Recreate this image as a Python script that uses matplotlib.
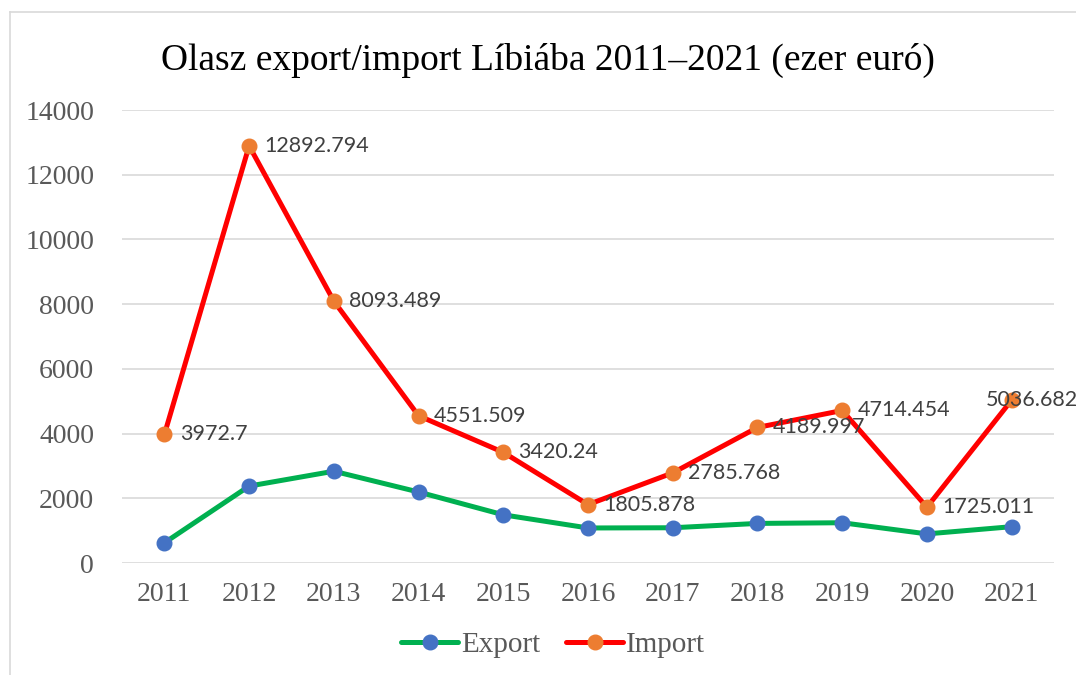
import matplotlib.pyplot as plt
from matplotlib.lines import Line2D

# Dati: olasz export/import Líbiába (ezer euró)
years = ['2011', '2012', '2013', '2014', '2015', '2016', '2017', '2018', '2019', '2020', '2021']
export = [624, 2378, 2837, 2195, 1490, 1083, 1090, 1224, 1245, 900, 1123]
imp = [3972.7, 12892.794, 8093.489, 4551.509, 3420.24, 1805.878, 2785.768, 4189.997, 4714.454, 1725.011, 5036.682]
imp_labels = ['3972.7', '12892.794', '8093.489', '4551.509', '3420.24', '1805.878',
              '2785.768', '4189.997', '4714.454', '1725.011', '5036.682']

serif = ['Liberation Serif', 'DejaVu Serif']
gray = '#595959'

fig = plt.figure(figsize=(10.76, 6.75), dpi=100)
ax = fig.add_axes([0.1134, 0.1659, 0.8662, 0.6711])

x = list(range(len(years)))
ax.plot(x, export, color='#00B050', lw=3.6, marker='o', ms=10.5,
        mfc='#4472C4', mec='#4472C4', solid_capstyle='round', zorder=3)
ax.plot(x, imp, color='#FF0000', lw=3.6, marker='o', ms=10.5,
        mfc='#ED7D31', mec='#ED7D31', solid_capstyle='round', zorder=3)

# etichette dei valori import (l'ultima spostata a sinistra come in Excel)
for i, (xi, yi, lab) in enumerate(zip(x, imp, imp_labels)):
    dx = 11 if i < len(x) - 1 else -19
    ax.annotate(lab, (xi, yi), xytext=(dx, 0), textcoords='offset points',
                ha='left', va='center', fontsize=15.5, family=['Lato', 'DejaVu Sans'],
                color='#404040', zorder=4)

ax.set_xlim(-0.5, len(years) - 0.5)
ax.set_ylim(0, 14000)
ax.set_yticks(range(0, 14001, 2000))
ax.set_xticks(x)
ax.set_xticklabels(years)
ax.grid(axis='y', color='#D9D9D9', lw=1.2)
ax.set_axisbelow(True)
for s in ax.spines.values():
    s.set_visible(False)
ax.tick_params(length=0, labelsize=20, labelcolor=gray)
ax.tick_params(axis='x', pad=14)
ax.tick_params(axis='y', pad=20)
for t in ax.get_xticklabels() + ax.get_yticklabels():
    t.set_family(serif)

fig.text(0.509, 0.91, 'Olasz export/import Líbiába 2011–2021 (ezer euró)',
         ha='center', va='center', fontsize=27, family=serif, color='black')

handles = [
    Line2D([], [], color='#00B050', lw=3.6, marker='o', ms=10.5, mfc='#4472C4', mec='#4472C4',
           solid_capstyle='round'),
    Line2D([], [], color='#FF0000', lw=3.6, marker='o', ms=10.5, mfc='#ED7D31', mec='#ED7D31',
           solid_capstyle='round'),
]
leg = fig.legend(handles, ['Export', 'Import'], loc='center', bbox_to_anchor=(0.514, 0.045),
                 ncol=2, frameon=False, handlelength=1.95, handletextpad=0.1, columnspacing=0.9,
                 prop={'family': serif, 'size': 21})
for t in leg.get_texts():
    t.set_color(gray)

# bordo del grafico
fig.add_artist(Line2D([10 / 1076, 10 / 1076], [0, 1 - 12 / 675], transform=fig.transFigure,
                      color='#D9D9D9', lw=1.2))
fig.add_artist(Line2D([10 / 1076, 1], [1 - 12 / 675, 1 - 12 / 675], transform=fig.transFigure,
                      color='#D9D9D9', lw=1.2))

fig.savefig('out.png', dpi=100)
